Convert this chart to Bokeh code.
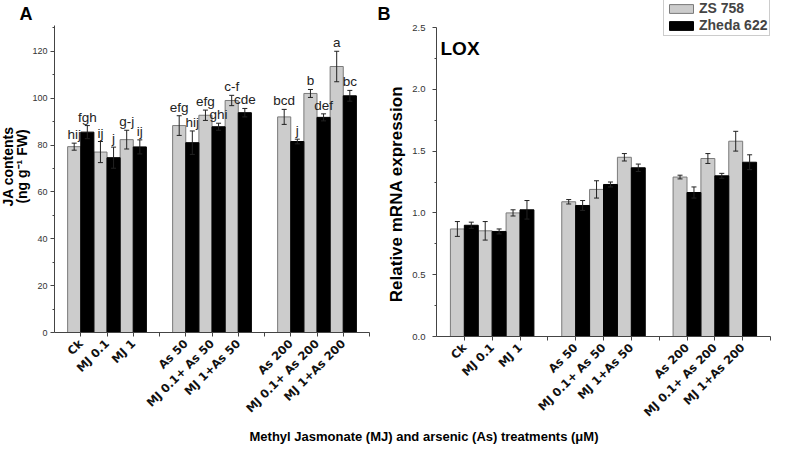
import math
from bokeh.plotting import figure
from bokeh.models import (Range1d, FixedTicker, ColumnDataSource, Whisker, TeeHead,
                          Label, Legend, LinearAxis, PrintfTickFormatter)
from bokeh.embed import file_html
from bokeh.resources import INLINE
from bokeh.core.properties import value

# ---------------- data ----------------
treatments = ["Ck", "MJ 0.1", "MJ 1",
              "As 50", "MJ 0.1+ As 50", "MJ 1+As 50",
              "As 200", "MJ 0.1+ As 200", "MJ 1+As 200"]
series_names = ["ZS 758", "Zheda 622"]

# Panel A: JA contents (ng g-1 FW)
ja_zs = [79.3, 77.0, 82.3, 88.3, 92.7, 99.0, 92.0, 102.0, 113.5]
ja_zs_err = [1.5, 4.5, 4.0, 4.2, 2.2, 2.2, 3.2, 1.7, 6.5]
ja_zh = [85.5, 74.6, 79.2, 81.0, 87.8, 93.8, 81.5, 91.8, 101.0]
ja_zh_err = [2.8, 4.5, 3.0, 5.0, 1.5, 1.8, 1.0, 1.5, 2.3]
ja_zs_letters = ["hij", "ij", "g-j", "efg", "efg", "c-f", "bcd", "b", "a"]
ja_zh_letters = ["fgh", "j", "ij", "hij", "ghi", "cde", "j", "def", "bc"]

# Panel B: LOX relative mRNA expression
lox_zs = [0.87, 0.855, 1.0, 1.09, 1.19, 1.45, 1.29, 1.44, 1.58]
lox_zs_err = [0.06, 0.075, 0.025, 0.018, 0.07, 0.03, 0.015, 0.04, 0.08]
lox_zh = [0.90, 0.85, 1.025, 1.06, 1.23, 1.365, 1.165, 1.30, 1.41]
lox_zh_err = [0.025, 0.02, 0.075, 0.04, 0.02, 0.03, 0.045, 0.02, 0.06]

ja_ticks = [0, 20, 40, 60, 80, 100, 120]
ja_max = 131
lox_ticks = [0.0, 0.5, 1.0, 1.5, 2.0, 2.5]
lox_max = 2.5

x_title = "Methyl Jasmonate (MJ) and arsenic (As) treatments (\u03bcM)"

# ---------------- layout (pixels of the canvas) ----------------
W, H = 771, 444
FONT = "Liberation Sans"
GRAY = "#cccccc"
GRAY_LINE = "#7a7a7a"
AX = "#444444"

# groups of three treatments with an empty slot between groups
positions = [i // 3 * 4 + i % 3 + 1 for i in range(len(treatments))]
n_slots = positions[-1] + 1

# frame boxes of the two panels: left, right, top, bottom (canvas px)
boxA = (54, 369, 25, 332)
boxB = (436, 770, 27, 336)


def ranges(box, ymax):
    l, r, t, b = box
    sx = (r - l) / n_slots
    sy = (b - t) / ymax
    return (Range1d(-l / sx, (W - l) / sx), Range1d(-(H - b) / sy, ymax + t / sy))


xrA, yrA = ranges(boxA, ja_max)
xrB, yrB = ranges(boxB, lox_max)

p = figure(width=W, height=H, x_range=xrA, y_range=yrA, output_backend="svg",
           toolbar_location=None, x_axis_location=None, y_axis_location=None,
           min_border=0)
p.extra_x_ranges = {"xb": xrB}
p.extra_y_ranges = {"yb": yrB}
p.outline_line_color = None
p.grid.visible = False


def sy(page_y):
    return H - page_y


def panel(xname, yname, ymax, ticks, minor, zs, zs_err, zh, zh_err, tick_font,
          tick_standoff, fmt=None, letters=None):
    kw = {}
    if xname:
        kw = dict(x_range_name=xname, y_range_name=yname)
    src = ColumnDataSource(dict(
        xg=[x - 0.25 for x in positions], xb=[x + 0.25 for x in positions],
        zs=zs, zh=zh,
        zs_lo=[v - e for v, e in zip(zs, zs_err)], zs_hi=[v + e for v, e in zip(zs, zs_err)],
        zh_lo=[v - e for v, e in zip(zh, zh_err)], zh_hi=[v + e for v, e in zip(zh, zh_err)],
    ))
    r1 = p.vbar(x="xg", top="zs", width=0.5, fill_color=GRAY, line_color=GRAY_LINE,
                line_width=1, source=src, **kw)
    r2 = p.vbar(x="xb", top="zh", width=0.5, fill_color="black", line_color="black",
                line_width=1, source=src, **kw)
    for base, lo, hi in (("xg", "zs_lo", "zs_hi"), ("xb", "zh_lo", "zh_hi")):
        w = Whisker(source=src, base=base, lower=lo, upper=hi, level="annotation",
                    line_color="#222222", line_width=1,
                    upper_head=TeeHead(size=5, line_color="#222222", line_width=1),
                    lower_head=TeeHead(size=5, line_color="#222222", line_width=1), **kw)
        p.add_layout(w)
    if letters is not None:
        src.data["lab_zs"] = letters[0]
        src.data["lab_zh"] = letters[1]
        for xc, yc, lab in (("xg", "zs_hi", "lab_zs"), ("xb", "zh_hi", "lab_zh")):
            p.text(x=xc, y=yc, text=lab, source=src, text_align="center",
                   text_baseline="bottom", y_offset=-1,
                   text_font=value(FONT), text_font_size="13.5px", text_color="#222222", **kw)

    xa = LinearAxis(fixed_location=0, bounds=(0, n_slots), **kw)
    xa.ticker = FixedTicker(ticks=list(range(1, n_slots + 1)))
    overrides = {t: "" for t in range(1, n_slots + 1)}
    for pos, name in zip(positions, treatments):
        overrides[pos] = name
    xa.major_label_overrides = overrides
    xa.major_label_orientation = math.pi / 4
    xa.major_label_text_font = "DejaVu Sans"
    xa.major_label_text_font_style = "bold"
    xa.major_label_text_font_size = "11.5px"
    xa.major_label_text_color = "#111111"
    xa.major_tick_in = 0
    xa.major_tick_out = 4
    xa.minor_tick_line_color = None
    xa.major_label_standoff = 5

    ya = LinearAxis(fixed_location=0, bounds=(0, ymax), **kw)
    ya.ticker = FixedTicker(ticks=ticks, minor_ticks=minor)
    if fmt:
        ya.formatter = PrintfTickFormatter(format=fmt)
    ya.major_tick_in = 0
    ya.major_tick_out = 4
    ya.minor_tick_in = 0
    ya.minor_tick_out = 2
    ya.major_label_text_font = FONT
    ya.major_label_text_font_size = tick_font
    ya.major_label_text_color = "#333333"
    ya.major_label_standoff = tick_standoff
    for ax in (xa, ya):
        ax.axis_line_color = AX
        ax.major_tick_line_color = AX
    ya.minor_tick_line_color = AX
    p.add_layout(ya, "left")
    p.add_layout(xa, "below")
    return r1, r2


# ---------------- panel A ----------------
ja_minor = [t + 10 for t in ja_ticks]
panel(None, None, ja_max, ja_ticks, ja_minor, ja_zs, ja_zs_err, ja_zh, ja_zh_err,
      "9px", 3, letters=(ja_zs_letters, ja_zh_letters))

# ---------------- panel B ----------------
lox_minor = [t + 0.25 for t in lox_ticks[:-1]]
b1, b2 = panel("xb", "yb", lox_max, lox_ticks, lox_minor, lox_zs, lox_zs_err, lox_zh,
               lox_zh_err, "9.5px", 7, fmt="%.1f")


def add_text(x, y, text, size, angle=0.0, align="left", baseline="alphabetic"):
    p.add_layout(Label(x=x, y=sy(y), x_units="screen", y_units="screen", text=text,
                       angle=angle, text_align=align, text_baseline=baseline,
                       text_font=FONT, text_font_style="bold", text_font_size=size,
                       text_color="black"))


add_text(19, 13, "A", "18px")
add_text(377, 13, "B", "18px")
add_text(7, 166, "JA contents", "14px", math.pi / 2, "center", "middle")
add_text(21, 166, "(ng g\u207b\u00b9 FW)", "14px", math.pi / 2, "center", "middle")
add_text(396, 193.5, "Relative mRNA expression", "17px", math.pi / 2, "center", "middle")
add_text(440, 48, "LOX", "19px")
add_text(423.5, 435.5, x_title, "13px", 0.0, "center", "middle")

legend = Legend(items=[(series_names[0], [b1]), (series_names[1], [b2])],
                location=(663, sy(36)), orientation="vertical",
                border_line_color="#9a9a9a", border_line_width=1,
                background_fill_color="white", background_fill_alpha=1.0,
                padding=2, spacing=1, margin=0, glyph_width=30, glyph_height=11,
                label_standoff=3, label_text_font=FONT, label_text_font_style="bold",
                label_text_font_size="14px", label_height=14)
p.add_layout(legend)

open("out.html", "w").write(file_html(p, INLINE))
